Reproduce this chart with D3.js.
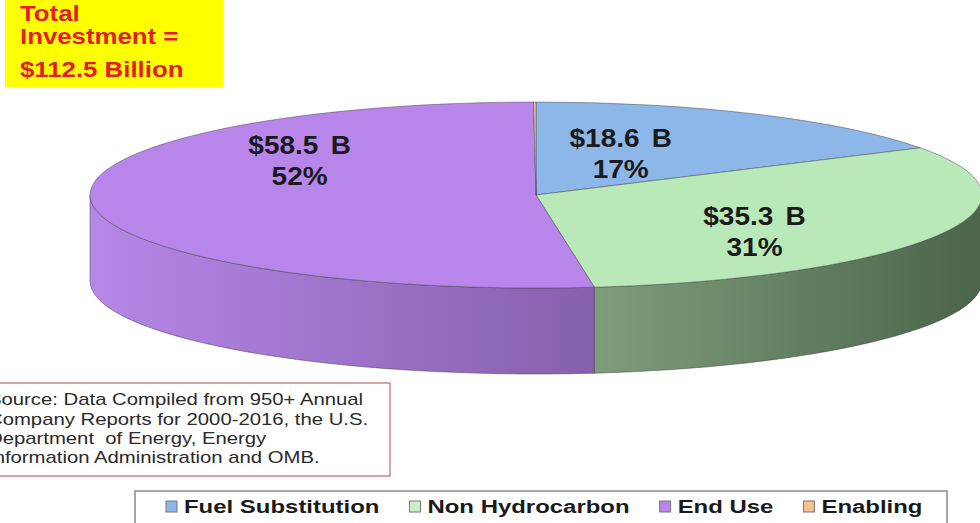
<!DOCTYPE html>
<html><head><meta charset="utf-8">
<script src="https://cdn.jsdelivr.net/npm/d3@7"></script>
<style>body{margin:0;background:#fff}svg{display:block}text{font-family:"Liberation Sans",Arial,sans-serif}</style>
</head><body><svg id="c" width="980" height="523"></svg>
<script>
// ---- data ----
const categories = ["Fuel Substitution", "Non Hydrocarbon", "End Use", "Enabling"];
const values = [18.6, 35.3, 58.5, 0.1];
const valueLabels = ["$18.6 B", "$35.3 B", "$58.5 B", ""];
const titleLines = ["Total", "Investment =", "$112.5 Billion"];
const sourceLines = [
  "Source: Data Compiled from 950+ Annual",
  "Company Reports for 2000-2016, the U.S.",
  "Department  of Energy, Energy",
  "Information Administration and OMB."
];
const topColors = ["#8DB7E8", "#B9E8B9", "#B886EA", "#F9C08F"];
const wallLight = ["#6F95C0", "#7E9D7B", "#B587E8", "#D49C70"];
const wallDark = ["#4F6F98", "#4B644B", "#8760AC", "#B07A50"];
const legendColors = ["#8DB7E8", "#C9F0C9", "#B886EA", "#F9C08F"];

// ---- layout ----
const cx = 536, cy = 195, rx = 446, ry = 93, depth = 86;
const labelAnchor = [[0.19, -0.45], [0.49, 0.39], [-0.53, -0.38]];
const svg = d3.select("#c");
const defs = svg.append("defs");
const total = d3.sum(values);

const pie = d3.pie().sort(null).value(d => d).startAngle(0).endAngle(2 * Math.PI);
const arcs = pie(values);
const px = a => cx + rx * Math.sin(a);
const py = a => cy - ry * Math.cos(a);

// walls (front half only)
arcs.forEach((d, i) => {
  const s = Math.max(d.startAngle, Math.PI / 2), e = Math.min(d.endAngle, 3 * Math.PI / 2);
  if (s >= e) return;
  const xs = [px(s), px(e)];
  if (s <= 3 * Math.PI / 2 && e >= 3 * Math.PI / 2 - 1e-6) xs.push(cx - rx);
  if (s <= Math.PI / 2 + 1e-6) xs.push(cx + rx);
  const g = defs.append("linearGradient").attr("id", "wg" + i)
    .attr("gradientUnits", "userSpaceOnUse")
    .attr("x1", d3.min(xs)).attr("x2", d3.max(xs)).attr("y1", 0).attr("y2", 0);
  g.append("stop").attr("offset", 0).attr("stop-color", wallLight[i]);
  g.append("stop").attr("offset", 1).attr("stop-color", wallDark[i]);
  const path = `M${px(s)},${py(s)} A${rx},${ry} 0 0 1 ${px(e)},${py(e)} L${px(e)},${py(e) + depth} A${rx},${ry} 0 0 0 ${px(s)},${py(s) + depth} Z`;
  svg.append("path").attr("d", path).attr("fill", `url(#wg${i})`)
    .attr("stroke", "#3a3a3a").attr("stroke-opacity", 0.6).attr("stroke-width", 0.8);
});

// tops
arcs.forEach((d, i) => {
  const large = (d.endAngle - d.startAngle) > Math.PI ? 1 : 0;
  const path = `M${cx},${cy} L${px(d.startAngle)},${py(d.startAngle)} A${rx},${ry} 0 ${large} 1 ${px(d.endAngle)},${py(d.endAngle)} Z`;
  svg.append("path").attr("d", path).attr("fill", topColors[i])
    .attr("stroke", "#3a3a3a").attr("stroke-opacity", 0.55).attr("stroke-width", 0.8);
});

// slice labels
arcs.forEach((d, i) => {
  if (!valueLabels[i]) return;
  const [fx, fy] = labelAnchor[i];
  const x = cx + fx * rx, y = cy + fy * ry;
  const pct = Math.round(values[i] / total * 100) + "%";
  [valueLabels[i], pct].forEach((t, k) => {
    svg.append("text")
      .attr("transform", `translate(${x},${y - 6 + k * 31}) scale(1.12,1)`)
      .attr("text-anchor", "middle").attr("font-size", 25).attr("font-weight", "bold")
      .attr("fill", "#1a1a1a").attr("word-spacing", 4).text(t);
  });
});

// title box
svg.append("rect").attr("x", 5).attr("y", 0).attr("width", 218).attr("height", 87).attr("fill", "#FFFF00");
const titleBase = [21, 44, 77];
titleLines.forEach((t, k) => {
  svg.append("text").attr("transform", `translate(20,${titleBase[k]}) scale(1.2,1)`)
    .attr("font-size", 21.5).attr("font-weight", "bold").attr("fill", "#E41B2A").text(t);
});

// source box
svg.append("rect").attr("x", -5).attr("y", 383).attr("width", 395).attr("height", 93)
  .attr("fill", "#fff").attr("stroke", "#C48A8A").attr("stroke-width", 1.5);
const srcBase = [405, 425, 444, 463];
sourceLines.forEach((t, k) => {
  svg.append("text").attr("transform", `translate(-12,${srcBase[k]}) scale(1.27,1)`)
    .attr("font-size", 16).attr("fill", "#2a2a2a").attr("xml:space", "preserve").style("white-space", "pre").text(t);
});

// legend
svg.append("rect").attr("x", 135).attr("y", 491).attr("width", 812).attr("height", 45)
  .attr("fill", "#fff").attr("stroke", "#8a8a8a").attr("stroke-width", 1.5);
let lx = 166;
categories.forEach((c, i) => {
  svg.append("rect").attr("x", lx).attr("y", 501).attr("width", 11).attr("height", 11)
    .attr("fill", legendColors[i]).attr("stroke", "#777").attr("stroke-width", 1);
  const t = svg.append("text").attr("transform", `translate(${lx + 18},513) scale(1.26,1)`)
    .attr("font-size", 19).attr("font-weight", "bold").attr("fill", "#1a1a1a").text(c);
  lx += 18 + t.node().getComputedTextLength() * 1.26 + 30;
});
</script></body></html>
